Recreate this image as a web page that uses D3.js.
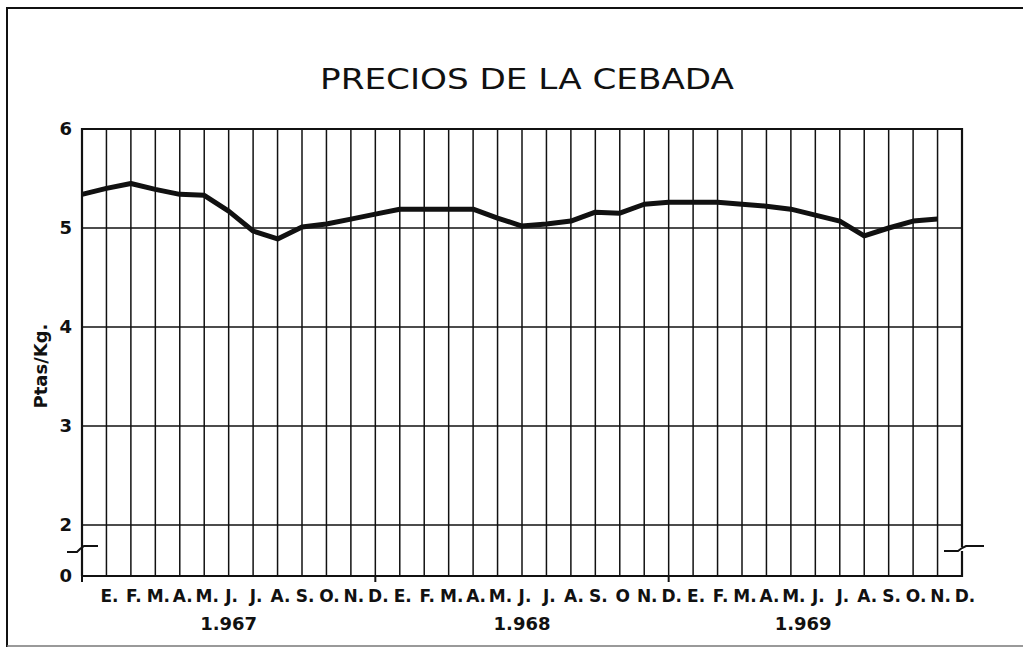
<!DOCTYPE html>
<html>
<head>
<meta charset="utf-8">
<script src="https://cdn.jsdelivr.net/npm/d3@7"></script>
<style>
  body { margin: 0; background: #fff; }
  svg text { font-family: "DejaVu Sans", sans-serif; fill: #111; }
</style>
</head>
<body>
<svg id="chart" width="1023" height="649"></svg>
<script>
// barley price, ptas/kg, one value per month (first point sits on the y axis)
const prices = [5.34, 5.40, 5.45, 5.39, 5.34, 5.33, 5.17, 4.97, 4.89, 5.01, 5.04, 5.09,
                5.14, 5.19, 5.19, 5.19, 5.19, 5.10, 5.02, 5.04, 5.07, 5.16, 5.15, 5.24,
                5.26, 5.26, 5.26, 5.24, 5.22, 5.19, 5.13, 5.07, 4.92, 5.00, 5.07, 5.09];
const months1967 = ["E.", "F.", "M.", "A.", "M.", "J.", "J.", "A.", "S.", "O.", "N.", "D."];
const months1968 = ["E.", "F.", "M.", "A.", "M.", "J.", "J.", "A.", "S.", "O", "N.", "D."];
const months1969 = ["E.", "F.", "M.", "A.", "M.", "J.", "J.", "A.", "S.", "O.", "N.", "D."];
const years = ["1.967", "1.968", "1.969"];
const yearPos = [6, 18, 29.5];
const yTicks = [2, 3, 4, 5, 6];

const svg = d3.select('#chart');
const plotLeft = 82, plotRight = 962, plotTop = 129, zeroY = 576;

let x = d3.scaleLinear().domain([0, 36]).range([plotLeft, plotRight]);
let y = d3.scaleLinear().domain([2, 6]).range([525, plotTop]);

// outer frame of the page
svg.append('path')
    .attr('d', 'M7,647 L7,8 L1023,8')
    .attr('fill', 'none').attr('stroke', '#111').attr('stroke-width', 2);
svg.append('line')
    .attr('x1', 7).attr('x2', 1023).attr('y1', 646).attr('y2', 646)
    .attr('stroke', '#777').attr('stroke-width', 1.5);

svg.append('text')
    .attr('x', 527).attr('y', 89)
    .attr('text-anchor', 'middle')
    .attr('font-size', 28)
    .attr('textLength', 414)
    .attr('lengthAdjust', 'spacingAndGlyphs')
    .text('PRECIOS DE LA CEBADA');

// vertical month lines
let allMonths = months1967.concat(months1968, months1969);
svg.append('g').selectAll('line')
    .data(d3.range(1, 36))
    .enter().append('line')
    .attr('x1', d => x(d)).attr('x2', d => x(d))
    .attr('y1', plotTop).attr('y2', zeroY)
    .attr('stroke', '#111').attr('stroke-width', 1.5);

// horizontal grid lines
svg.append('g').selectAll('line')
    .data(yTicks.filter(d => d < 6))
    .enter().append('line')
    .attr('x1', plotLeft).attr('x2', plotRight)
    .attr('y1', d => y(d)).attr('y2', d => y(d))
    .attr('stroke', '#111').attr('stroke-width', 1.5);

// frame of the plot, with the axis breaks between 0 and 2
svg.append('path')
    .attr('d', `M${plotLeft},${zeroY} L${plotLeft},${plotTop} L${plotRight},${plotTop} L${plotRight},547 M${plotRight},551 L${plotRight},${zeroY} L${plotLeft},${zeroY}`)
    .attr('fill', 'none').attr('stroke', '#111').attr('stroke-width', 2.2);

svg.append('path')
    .attr('d', `M67,552 L77,552 L80,549 L84,546 L98,546`)
    .attr('fill', 'none').attr('stroke', '#111').attr('stroke-width', 2);
svg.append('path')
    .attr('d', `M944,551 L958,551 L962,548 L966,546 L984,546`)
    .attr('fill', 'none').attr('stroke', '#111').attr('stroke-width', 2);

// year separators below the axis
svg.append('g').selectAll('line')
    .data([0, 12, 24])
    .enter().append('line')
    .attr('x1', d => x(d)).attr('x2', d => x(d))
    .attr('y1', zeroY).attr('y2', zeroY + 6)
    .attr('stroke', '#111').attr('stroke-width', 2);

// y labels
svg.append('g').selectAll('text')
    .data(yTicks)
    .enter().append('text')
    .attr('x', 72).attr('y', d => y(d) + 6)
    .attr('text-anchor', 'end')
    .attr('font-size', 18).attr('font-weight', 'bold')
    .text(d => d);
svg.append('text')
    .attr('x', 72).attr('y', zeroY + 6)
    .attr('text-anchor', 'end')
    .attr('font-size', 18).attr('font-weight', 'bold')
    .text('0');

svg.append('text')
    .attr('transform', 'translate(47,366) rotate(-90)')
    .attr('text-anchor', 'middle')
    .attr('font-size', 18).attr('font-weight', 'bold')
    .text('Ptas/Kg.');

// month labels
svg.append('g').selectAll('text')
    .data(allMonths)
    .enter().append('text')
    .attr('x', (d, i) => x(i + 1) + 3)
    .attr('y', 602)
    .attr('text-anchor', 'middle')
    .attr('font-size', 17).attr('font-weight', 'bold')
    .text(d => d);

svg.append('g').selectAll('text')
    .data(years)
    .enter().append('text')
    .attr('x', (d, i) => x(yearPos[i]))
    .attr('y', 630)
    .attr('text-anchor', 'middle')
    .attr('font-size', 18).attr('font-weight', 'bold')
    .text(d => d);

// price line
let line = d3.line()
    .x((d, i) => x(i))
    .y(d => y(d));
svg.append('path')
    .datum(prices)
    .attr('d', line)
    .attr('fill', 'none')
    .attr('stroke', '#111')
    .attr('stroke-width', 5)
    .attr('stroke-linejoin', 'round');
</script>
</body>
</html>
